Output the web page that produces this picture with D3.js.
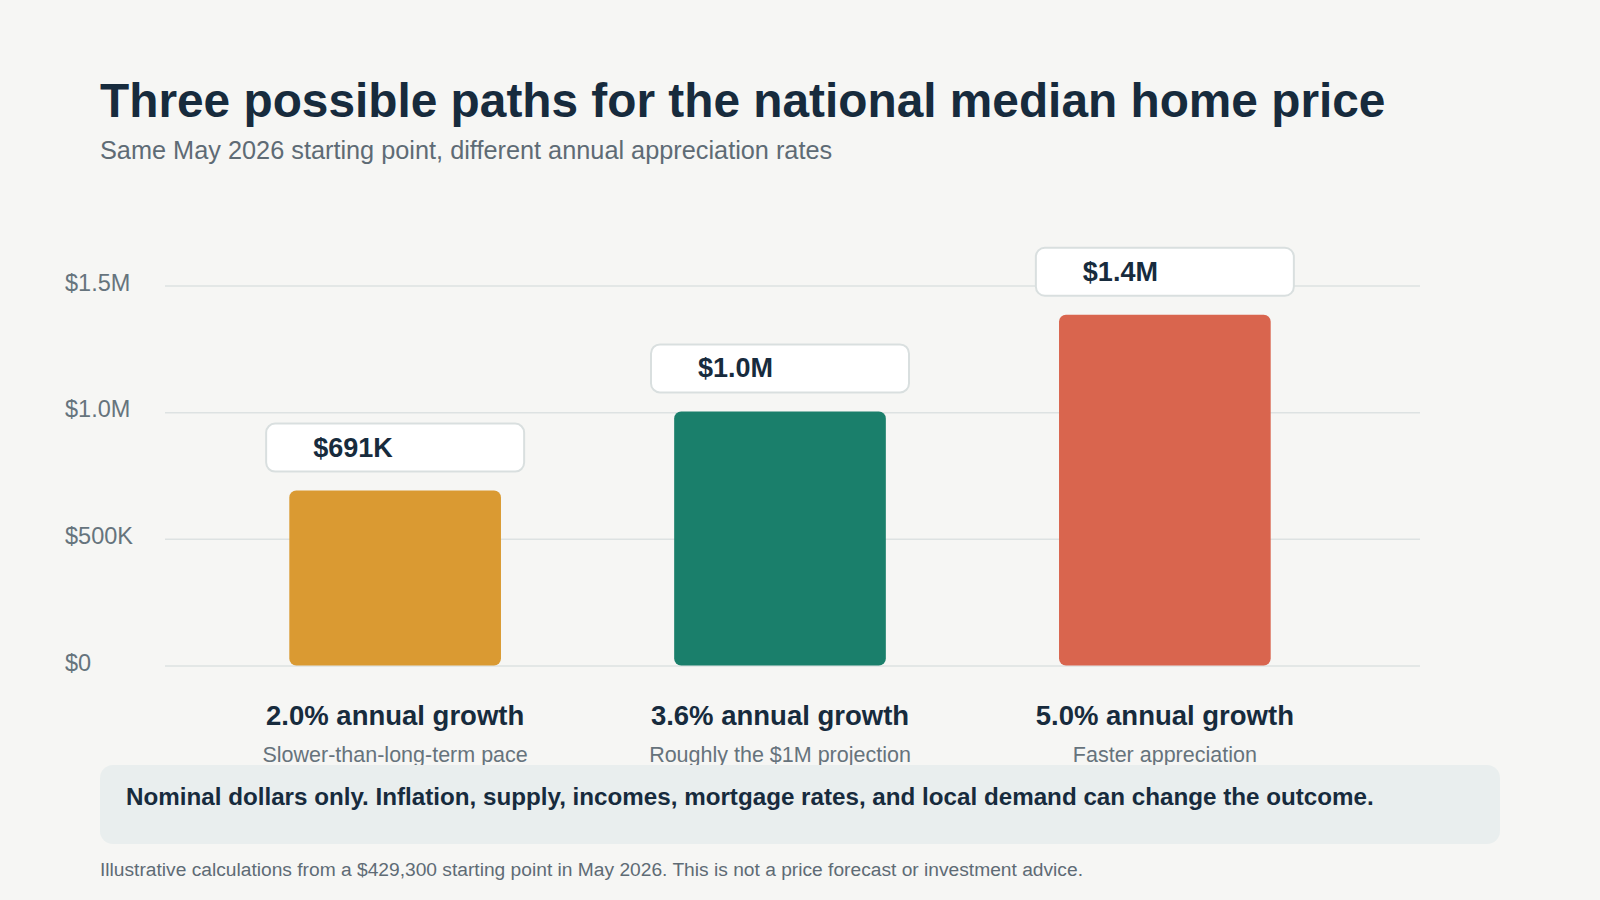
<!DOCTYPE html>
<html>
<head>
<meta charset="utf-8">
<script src="https://cdn.jsdelivr.net/npm/d3@7"></script>
<style>
    html, body { margin: 0; padding: 0; background: #f6f6f4; }
    svg { display: block; font-family: 'Liberation Sans', Arial, sans-serif; }
</style>
</head>
<body>
<svg id="chart"></svg>
<script>
// Chart data
const categories = ['2.0% annual growth', '3.6% annual growth', '5.0% annual growth'];
const subLabels = ['Slower-than-long-term pace', 'Roughly the $1M projection', 'Faster appreciation'];
const values = [690500, 1003000, 1384500];
const valueLabels = ['$691K', '$1.0M', '$1.4M'];
const barColors = ['#da9a32', '#1a7f6b', '#d9654e'];
const yTicks = [0, 500000, 1000000, 1500000];
const yTickLabels = ['$0', '$500K', '$1.0M', '$1.5M'];

document.addEventListener('DOMContentLoaded', function () {
    const width = 1600, height = 900;
    const svg = d3.select('#chart').attr('width', width).attr('height', height);

    svg.append('rect')
        .attr('width', width).attr('height', height)
        .attr('fill', '#f6f6f4');

    // Title + subtitle
    svg.append('text')
        .attr('x', 100).attr('y', 117)
        .attr('font-size', 47.8).attr('font-weight', 700)
        .attr('fill', '#172b3d')
        .text('Three possible paths for the national median home price');

    svg.append('text')
        .attr('x', 100).attr('y', 159)
        .attr('font-size', 25.3)
        .attr('fill', '#5e6b75')
        .text('Same May 2026 starting point, different annual appreciation rates');

    const gridLeft = 165, gridRight = 1420;

    const xScale = d3.scaleBand()
        .domain(categories)
        .range([170, 1390])
        .paddingInner(0.45)
        .paddingOuter(0.31);

    const yScale = d3.scaleLinear()
        .domain([0, 1500000])
        .range([665.5, 285.5]);

    // y axis with gridlines
    const yAxis = svg.append('g')
        .attr('transform', `translate(${gridLeft},0)`)
        .call(d3.axisLeft(yScale)
            .tickValues(yTicks)
            .tickSize(-(gridRight - gridLeft))
            .tickFormat((d, i) => yTickLabels[i]));
    yAxis.select('.domain').remove();
    yAxis.selectAll('.tick line').attr('stroke', '#dde2e2').attr('stroke-width', 1.5);
    yAxis.selectAll('.tick text')
        .attr('x', 65 - gridLeft)
        .attr('dy', '0.2em')
        .attr('text-anchor', 'start')
        .attr('font-family', "'Liberation Sans', Arial, sans-serif")
        .attr('font-size', 23.5)
        .attr('fill', '#66747d');

    const rows = categories.map((c, i) => ({
        cat: c, sub: subLabels[i], value: values[i], label: valueLabels[i], color: barColors[i]
    }));

    // bars
    svg.selectAll('.bar')
        .data(rows)
        .enter().append('rect')
        .attr('class', 'bar')
        .attr('x', d => xScale(d.cat))
        .attr('y', d => yScale(d.value))
        .attr('width', xScale.bandwidth())
        .attr('height', d => yScale(0) - yScale(d.value))
        .attr('rx', 7)
        .attr('fill', d => d.color);

    // value label boxes
    const boxW = 258, boxH = 48;
    const labels = svg.selectAll('.value-label')
        .data(rows)
        .enter().append('g')
        .attr('class', 'value-label')
        .attr('transform', d => {
            const cx = xScale(d.cat) + xScale.bandwidth() / 2;
            return `translate(${cx - boxW / 2},${yScale(d.value) - 19 - boxH})`;
        });
    labels.append('rect')
        .attr('width', boxW).attr('height', boxH)
        .attr('rx', 9)
        .attr('fill', '#ffffff')
        .attr('stroke', '#d9dfdf')
        .attr('stroke-width', 2);
    labels.append('text')
        .attr('x', 47).attr('y', 33)
        .attr('font-size', 27).attr('font-weight', 700)
        .attr('fill', '#172b3d')
        .text(d => d.label);

    // category labels
    svg.selectAll('.cat-label')
        .data(rows)
        .enter().append('text')
        .attr('class', 'cat-label')
        .attr('x', d => xScale(d.cat) + xScale.bandwidth() / 2)
        .attr('y', 725)
        .attr('text-anchor', 'middle')
        .attr('font-size', 27.5).attr('font-weight', 700)
        .attr('fill', '#172b3d')
        .text(d => d.cat);

    svg.selectAll('.sub-label')
        .data(rows)
        .enter().append('text')
        .attr('class', 'sub-label')
        .attr('x', d => xScale(d.cat) + xScale.bandwidth() / 2)
        .attr('y', 762)
        .attr('text-anchor', 'middle')
        .attr('font-size', 21.5)
        .attr('fill', '#66737c')
        .text(d => d.sub);

    // note box
    svg.append('rect')
        .attr('x', 100).attr('y', 765)
        .attr('width', 1400).attr('height', 79)
        .attr('rx', 13)
        .attr('fill', '#e9eeee');
    svg.append('text')
        .attr('x', 126).attr('y', 805)
        .attr('font-size', 24.2).attr('font-weight', 700)
        .attr('fill', '#172b3d')
        .text('Nominal dollars only. Inflation, supply, incomes, mortgage rates, and local demand can change the outcome.');

    // footer
    svg.append('text')
        .attr('x', 100).attr('y', 876)
        .attr('font-size', 19.2)
        .attr('fill', '#5e6b75')
        .text('Illustrative calculations from a $429,300 starting point in May 2026. This is not a price forecast or investment advice.');
});
</script>
</body>
</html>
